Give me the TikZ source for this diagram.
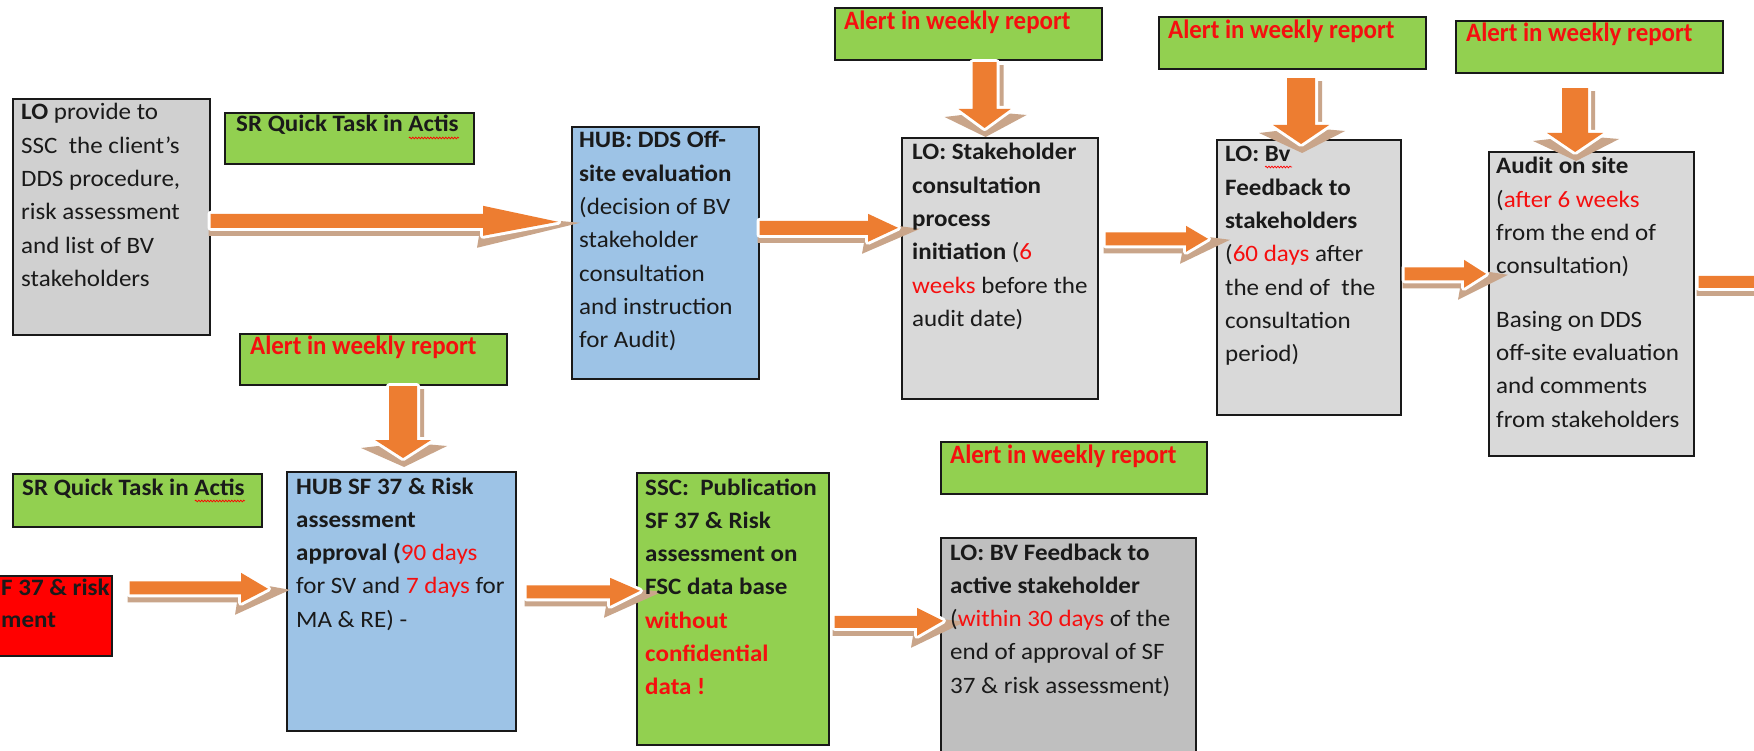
\documentclass[tikz,border=0pt]{standalone}
\usepackage{fontspec}
\setmainfont{Carlito}[FakeStretch=1.065]
\newfontfamily\alertfont{Carlito}[FakeStretch=0.94]
\usetikzlibrary{calc,decorations.pathmorphing}
\definecolor{boxgray}{HTML}{D9D9D9}
\definecolor{boxgrayA}{HTML}{D0D0D0}
\definecolor{boxgrayB}{HTML}{BFBFBF}
\definecolor{boxblue}{HTML}{9DC3E6}
\definecolor{boxgreen}{HTML}{92D050}
\definecolor{boxred}{HTML}{FF0000}
\definecolor{arrowc}{HTML}{ED7D31}
\definecolor{shadowc}{HTML}{C9A58A}
\definecolor{txtred}{HTML}{F50F0F}
\definecolor{txtdark}{HTML}{1A1A1A}
\newcommand\R[1]{\textcolor{txtred}{#1}}
\newcommand\B[1]{\textbf{#1}}
% horizontal block arrow: start, tip, shaft half, head half, head length
\newcommand\harrow[5]{%
  \fill[shadowc] let \p1=(#1),\p2=(#2) in
    ({\x1-2pt},{\y1+#3-8pt}) -- ({\x2-#5-2pt},{\y1+#3-8pt}) -- ({\x2-#5-2pt},{\y1+#4-8pt})
    -- ({\x2+22pt},{\y2-1pt}) -- ({\x2-#5-6pt},{\y1-#4-12pt}) -- ({\x2-#5-4pt},{\y1-#3-8pt})
    -- ({\x1-2pt},{\y1-#3-8pt}) -- cycle;
  \fill[arrowc, preaction={draw=white, line width=6pt, line join=round}] let \p1=(#1),\p2=(#2) in
    ({\x1},{\y1+#3}) -- ({\x2-#5},{\y1+#3}) -- ({\x2-#5},{\y1+#4}) -- ({\x2},{\y2})
    -- ({\x2-#5},{\y1-#4}) -- ({\x2-#5},{\y1-#3}) -- ({\x1},{\y1-#3}) -- cycle;
}
% vertical (downward) block arrow: start, tip, shaft half, head half, head length
\newcommand\varrow[5]{%
  \fill[shadowc] let \p1=(#1),\p2=(#2) in
    ({\x1-#3+6pt},{\y1-3pt}) -- ({\x1-#3+6pt},{\y2+#5-4pt}) -- ({\x1-#4-14pt},{\y2+#5-8pt})
    -- ({\x1+1pt},{\y2-9pt}) -- ({\x1+#4+16pt},{\y2+#5-6pt}) -- ({\x1+#3+7pt},{\y2+#5-4pt})
    -- ({\x1+#3+7pt},{\y1-3pt}) -- cycle;
  \fill[arrowc, preaction={draw=white, line width=6pt, line join=round}] let \p1=(#1),\p2=(#2) in
    ({\x1-#3},{\y1}) -- ({\x1-#3},{\y2+#5}) -- ({\x1-#4},{\y2+#5}) -- ({\x1},{\y2})
    -- ({\x1+#4},{\y2+#5}) -- ({\x1+#3},{\y2+#5}) -- ({\x1+#3},{\y1}) -- cycle;
}
\begin{document}
\begin{tikzpicture}[x=1pt,y=-1pt,
  boxbase/.style={draw=black!90, line width=1.6pt, inner sep=0pt, anchor=north west},
  graybox/.style={boxbase, fill=boxgray},
  grayboxA/.style={boxbase, fill=boxgrayA},
  grayboxB/.style={boxbase, fill=boxgrayB},
  bluebox/.style={boxbase, fill=boxblue},
  greenbox/.style={boxbase, fill=boxgreen},
  redbox/.style={boxbase, fill=boxred},
  alertbox/.style={boxbase, fill=boxgreen, line width=2.2pt, minimum width=267pt, minimum height=52pt},
  taskbox/.style={boxbase, fill=boxgreen, line width=2pt},
  boxtext/.style={anchor=base west, inner sep=0pt, text=txtdark, font=\fontsize{23.5}{33.3}\selectfont},
  alerttext/.style={anchor=base west, inner sep=0pt, text=txtred, font=\fontsize{26.5}{33.3}\alertfont\bfseries},
  tasktext/.style={boxtext, font=\fontsize{23.5}{33.3}\selectfont\bfseries},
  sqstyle/.style={draw=red, line width=0.7pt, decorate, decoration={snake, amplitude=0.9pt, segment length=3pt}}
]
\useasboundingbox (0,0) rectangle (1754,751);
\clip (0,0) rectangle (1754,751);
\fill[white] (0,0) rectangle (1754,751);

% ---- boxes ----
\node[grayboxA, minimum width=197pt, minimum height=236pt] (lo) at (12,98) {};
\node[taskbox, minimum width=249pt, minimum height=51pt] (sr1) at (224,112) {};
\node[bluebox, minimum width=187pt, minimum height=252pt] (hubdds) at (571,126) {};
\node[alertbox] (al1) at (834,7) {};
\node[graybox, minimum width=196pt, minimum height=261pt] (lostake) at (901,137) {};
\node[alertbox] (al2) at (1158,16) {};
\node[graybox, minimum width=184pt, minimum height=275pt] (lobv) at (1216,139) {};
\node[alertbox] (al3) at (1455,20) {};
\node[graybox, minimum width=205pt, minimum height=304pt] (audit) at (1488,151) {};
\node[alertbox, minimum height=51pt] (al4) at (239,333) {};
\node[taskbox, minimum width=249pt, minimum height=53pt] (sr2) at (12,473) {};
\node[redbox, minimum width=121pt, minimum height=80pt] (red) at (-10,575) {};
\node[bluebox, minimum width=229pt, minimum height=259pt] (hubsf) at (286,471) {};
\node[greenbox, minimum width=192pt, minimum height=272pt] (ssc) at (636,472) {};
\node[alertbox, minimum width=266pt] (al5) at (940,441) {};
\node[grayboxB, minimum width=255pt, minimum height=233pt] (lobva) at (940,537) {};

% ---- arrow end coordinates ----
\coordinate (a1s) at ([shift={(0,4)}]lo.east);
\coordinate (a1e) at ([shift={(-13,-31)}]hubdds.west);
\coordinate (a2s) at ([shift={(0,-25)}]hubdds.east);
\coordinate (a2e) at ([shift={(-3,-40.5)}]lostake.west);
\coordinate (a3s) at ([shift={(7,-29.5)}]lostake.east);
\coordinate (a3e) at ([shift={(-8,-38.5)}]lobv.west);
\coordinate (a4s) at ([shift={(3,-3.5)}]lobv.east);
\coordinate (a4e) at ([shift={(-2,-30)}]audit.west);
\coordinate (a5s) at ([shift={(4,-22)}]audit.east);
\coordinate (a5e) at ([shift={(107,-22)}]audit.east);
\coordinate (a6s) at ([shift={(17,-28)}]red.east);
\coordinate (a6e) at ([shift={(-18,-12.5)}]hubsf.west);
\coordinate (a7s) at ([shift={(10,-9.5)}]hubsf.east);
\coordinate (a7e) at ([shift={(4,-18)}]ssc.west);
\coordinate (a8s) at ([shift={(5,13)}]ssc.east);
\coordinate (a8e) at ([shift={(3,-33.5)}]lobva.west);
\coordinate (d1s) at ([shift={(16,1)}]al1.south);
\coordinate (d1e) at ([shift={(-15,-9)}]lostake.north);
\coordinate (d2s) at ([shift={(8.5,8)}]al2.south);
\coordinate (d2e) at ([shift={(-8,5)}]lobv.north);
\coordinate (d3s) at ([shift={(-14.5,14)}]al3.south);
\coordinate (d3e) at ([shift={(-16.5,1)}]audit.north);
\coordinate (d4s) at ([shift={(29.5,0)}]al4.south);
\coordinate (d4e) at ([shift={(1.5,-13)}]hubsf.north);

% ---- arrows ----
\harrow{a1s}{a1e}{7pt}{15pt}{75pt}
\harrow{a2s}{a2e}{7pt}{14pt}{30pt}
\harrow{a3s}{a3e}{6.5pt}{13pt}{22pt}
\harrow{a4s}{a4e}{6.5pt}{14pt}{22pt}
\harrow{a5s}{a5e}{6pt}{13pt}{25pt}
\harrow{a6s}{a6e}{6.5pt}{15pt}{27pt}
\harrow{a7s}{a7e}{6.5pt}{14pt}{30pt}
\harrow{a8s}{a8e}{6pt}{14pt}{26pt}
\varrow{d1s}{d1e}{12pt}{26pt}{19pt}
\varrow{d2s}{d2e}{14pt}{28pt}{19pt}
\varrow{d3s}{d3e}{13pt}{28pt}{19pt}
\varrow{d4s}{d4e}{14pt}{28pt}{18pt}

% ---- texts ----
\node[boxtext] (lo-t) at ([shift={(9,22)}]lo.north west) {\parbox[t]{260pt}{\raggedright
  \B{LO} provide to\\ SSC\ \ the client’s\\ DDS procedure,\\ risk assessment\\ and list of BV\\ stakeholders}};
\node[tasktext] (sr1-t) at ([shift={(12,20)}]sr1.north west) {SR Quick Task in Actis};
\node[boxtext] (hubdds-t) at ([shift={(8,22)}]hubdds.north west) {\parbox[t]{260pt}{\raggedright
  \B{HUB: DDS Off-}\\ \B{site evaluation}\\ (decision of BV\\ stakeholder\\ consultation\\ and instruction\\ for Audit)}};
\node[alerttext] (al1-t) at ([shift={(10,23)}]al1.north west) {Alert in weekly report};
\node[boxtext] (lostake-t) at ([shift={(11,23)}]lostake.north west) {\parbox[t]{260pt}{\raggedright
  \B{LO: Stakeholder}\\ \B{consultation}\\ \B{process}\\ \B{initiation} (\R{6}\\ \R{weeks} before the\\ audit date)}};
\node[alerttext] (al2-t) at ([shift={(10,23)}]al2.north west) {Alert in weekly report};
\node[boxtext] (lobv-t) at ([shift={(9,23)}]lobv.north west) {\parbox[t]{260pt}{\raggedright
  \B{LO: Bv}\\ \B{Feedback to}\\ \B{stakeholders}\\ (\R{60 days} after\\ the end of\ \ the\\ consultation\\ period)}};
\node[alerttext] (al3-t) at ([shift={(11,22)}]al3.north west) {Alert in weekly report};
\node[boxtext] (audit-t) at ([shift={(8,23)}]audit.north west) {\parbox[t]{260pt}{\raggedright
  \B{Audit on site}\\ (\R{after 6 weeks}\\ from the end of\\ consultation)\\[20pt] Basing on DDS\\ off-site evaluation\\ and comments\\ from stakeholders}};
\node[alerttext] (al4-t) at ([shift={(11,22)}]al4.north west) {Alert in weekly report};
\node[tasktext] (sr2-t) at ([shift={(10,22)}]sr2.north west) {SR Quick Task in Actis};
\node[boxtext] (red-t) at ([shift={(11,20)}]red.north west) {\parbox[t]{200pt}{\raggedright
  \B{F 37 \& risk}\\[-1.3pt] \B{ment}}};
\node[boxtext] (hubsf-t) at ([shift={(10,23)}]hubsf.north west) {\parbox[t]{260pt}{\raggedright
  \B{HUB SF 37 \& Risk}\\ \B{assessment}\\ \B{approval (}\R{90 days}\\ for SV and \R{7 days} for\\ MA \& RE) -}};
\node[boxtext] (ssc-t) at ([shift={(9,23)}]ssc.north west) {\parbox[t]{260pt}{\raggedright
  \B{SSC:\ \ Publication}\\ \B{SF 37 \& Risk}\\ \B{assessment on}\\ \B{FSC data base}\\ \B{\R{without}}\\ \B{\R{confidential}}\\ \B{\R{data !}}}};
\node[alerttext] (al5-t) at ([shift={(10,22)}]al5.north west) {Alert in weekly report};
\node[boxtext] (lobva-t) at ([shift={(10,23)}]lobva.north west) {\parbox[t]{260pt}{\raggedright
  \B{LO: BV Feedback to}\\ \B{active stakeholder}\\ (\R{within 30 days} of the\\ end of approval of SF\\ 37 \& risk assessment)}};

% ---- spell-check squiggles ----
\draw[sqstyle] ([shift={(-50,6)}]sr1-t.base east) -- ([shift={(0,6)}]sr1-t.base east);
\draw[sqstyle] ([shift={(-50,6)}]sr2-t.base east) -- ([shift={(0,6)}]sr2-t.base east);
\draw[sqstyle] ([shift={(40,5)}]lobv-t.base west) -- ([shift={(67,5)}]lobv-t.base west);
\end{tikzpicture}
\end{document}
